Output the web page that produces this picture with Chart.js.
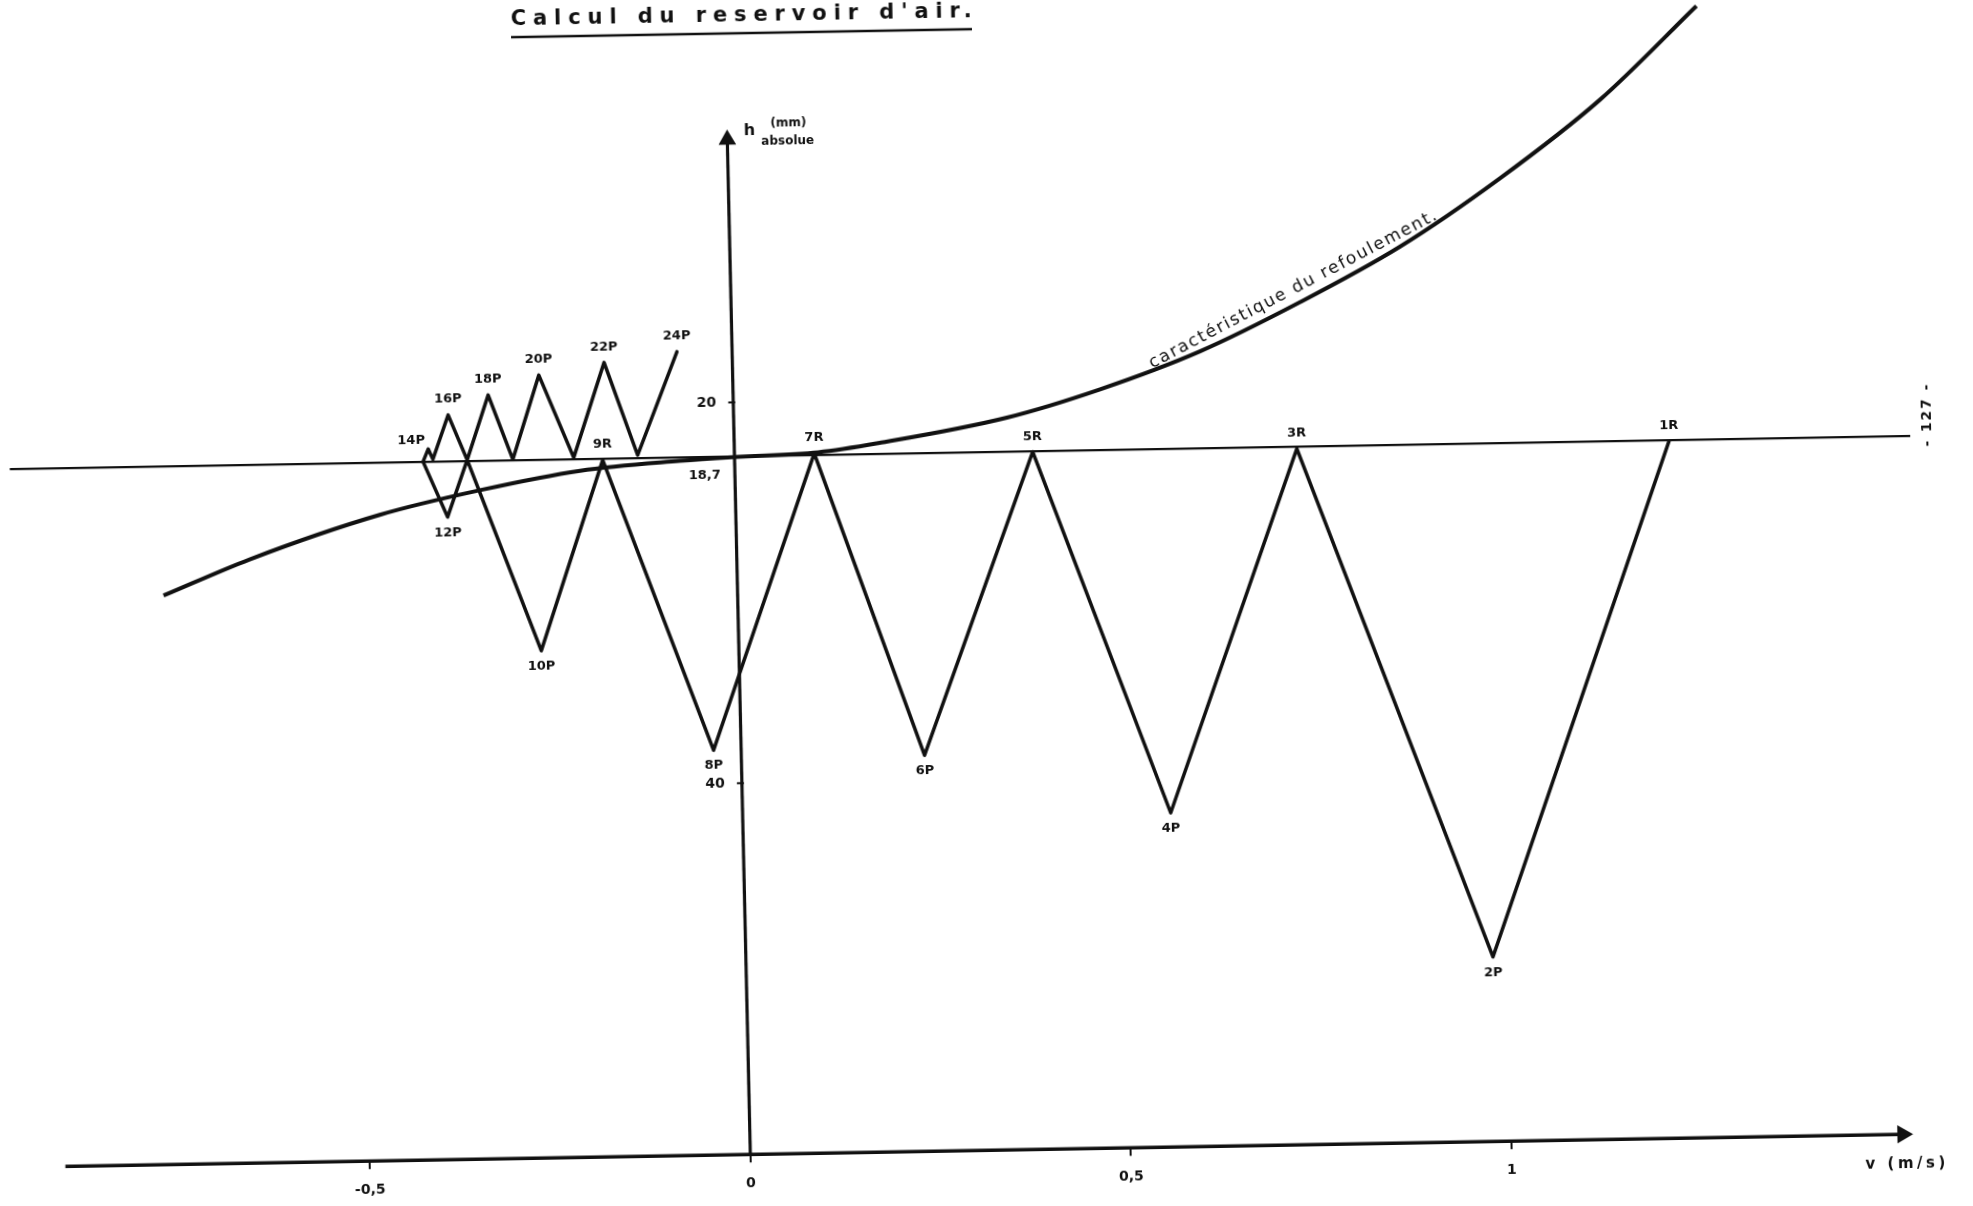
<!DOCTYPE html>
<html lang="fr">
<head>
  <meta charset="UTF-8">
  <title>Calcul du reservoir d'air</title>
  <script src="https://cdn.jsdelivr.net/npm/chart.js"></script>
  <style>
    html, body { margin: 0; padding: 0; background: #fff; overflow: hidden; }
    /* the scanned sheet sits about one degree off square */
    .sheet { position: absolute; left: -40px; top: -40px; width: 2053px; height: 1286px; transform: rotate(-1deg); }
    canvas { display: block; }
  </style>
</head>
<body>
  <div class="sheet"><canvas id="chart" width="2053" height="1286"></canvas></div>

  <script>
    // axis ticks
    const xTicks = [-0.5, 0, 0.5, 1];
    const xTickLabels = ["-0,5", "0", "0,5", "1"];
    const yTicks = [20, 40];
    const yTickLabels = ["20", "40"];

    // Bergeron construction, from 1R down to 24P (v in m/s, h)
    const pointLabels = ["1R", "2P", "3R", "4P", "5R", "6P", "7R", "8P", "9R", "10P", "", "12P",
                         "", "14P", "", "16P", "", "18P", "", "20P", "", "22P", "", "24P"];
    const pointV = [1.223, 0.980, 0.734, 0.560, 0.387, 0.238, 0.100, -0.039, -0.178, -0.263, -0.356, -0.383,
                    -0.414, -0.407, -0.401, -0.380, -0.356, -0.327, -0.296, -0.260, -0.216, -0.174, -0.132, -0.078];
    const pointH = [22.89, 49.81, 22.95, 41.95, 22.87, 38.70, 22.75, 38.24, 22.91, 32.86, 22.78, 25.76,
                    22.83, 22.17, 22.71, 20.40, 22.78, 19.39, 22.79, 18.39, 22.75, 17.79, 22.68, 17.29];

    // caractéristique du refoulement
    const curveLabel = "caractéristique du refoulement.";
    const curveV = [-0.758, -0.644, -0.472, -0.340, -0.208, -0.077, -0.007, 0.105, 0.188,
                    0.354, 0.477, 0.609, 0.742, 0.874, 1.007, 1.140, 1.269];
    const curveH = [29.62, 27.80, 25.58, 24.38, 23.45, 23.02, 22.87, 22.70, 22.25,
                    21.05, 19.65, 17.75, 15.25, 12.44, 8.94, 4.91, 0.07];

    // static level line
    const levelLabel = "18,7";
    const levelV = [-0.957, 1.540];
    const levelH = [22.84, 22.84];

    // hand drawn axes
    const xAxisV = [-0.900, 1.514];
    const xAxisH = [59.5, 59.5];
    const yAxisV = [0, -0.007];
    const yAxisH = [59.5, 6.2];

    const INK = "#111";
    const FONT = "DejaVu Sans";
    const pts = (xs, ys) => xs.map((x, i) => ({ x: x, y: ys[i] }));

    function fitSpacing(ctx, text, width) {
      ctx.letterSpacing = "0px";
      const w = ctx.measureText(text).width;
      ctx.letterSpacing = ((width - w) / (text.length - 1)).toFixed(2) + "px";
    }

    const sheetText = {
      id: "sheetText",
      afterDraw(chart) {
        const ctx = chart.ctx;
        const ca = chart.chartArea;
        const xs = chart.scales.x, ys = chart.scales.y;
        const ya = chart.getDatasetMeta(1).data;
        // x pixel of the (slightly leaning) h axis at a given height
        const axisX = y => ya[0].x + (ya[1].x - ya[0].x) * (y - ya[0].y) / (ya[1].y - ya[0].y);
        const x0 = xs.getPixelForValue(0);
        const yLevel = ys.getPixelForValue(levelH[0]);
        const yTop = ys.getPixelForValue(yAxisH[1]);
        ctx.save();
        ctx.fillStyle = INK;
        ctx.strokeStyle = INK;

        // title, underlined
        ctx.font = "bold 21px " + FONT;
        fitSpacing(ctx, "Calcul du reservoir d'air.", 461);
        ctx.textAlign = "left";
        ctx.textBaseline = "alphabetic";
        ctx.fillText("Calcul du reservoir d'air.", ca.left + 511, ca.top + 17);
        ctx.lineWidth = 2.5;
        ctx.beginPath();
        ctx.moveTo(ca.left + 511, ca.top + 29);
        ctx.lineTo(ca.left + 972, ca.top + 29);
        ctx.stroke();

        // h axis ticks and labels
        ctx.letterSpacing = "0px";
        ctx.lineWidth = 2;
        ctx.font = "bold 14px " + FONT;
        ctx.textAlign = "right";
        ctx.textBaseline = "middle";
        yTicks.forEach((v, i) => {
          const y = ys.getPixelForValue(v);
          const ax = axisX(y);
          ctx.beginPath();
          ctx.moveTo(ax - 5, y);
          ctx.lineTo(ax + 2, y);
          ctx.stroke();
          ctx.fillText(yTickLabels[i], ax - 17, y);
        });

        // level value
        ctx.font = "bold 13px " + FONT;
        ctx.fillText(levelLabel, axisX(yLevel) - 14, yLevel + 19);

        // axis names
        ctx.textAlign = "center";
        ctx.font = "bold 16px " + FONT;
        ctx.fillText("h", x0 + 17, yTop - 8);
        ctx.font = "bold 12px " + FONT;
        ctx.fillText("(mm)", x0 + 56, yTop - 15);
        ctx.fillText("absolue", x0 + 55, yTop + 3);

        ctx.font = "bold 15px " + FONT;
        fitSpacing(ctx, "v (m/s)", 80);
        ctx.fillText("v (m/s)", xs.getPixelForValue(xAxisV[1]) + 4, ca.bottom + 30);

        // point names
        ctx.letterSpacing = "0px";
        const zig = chart.getDatasetMeta(4).data;
        ctx.font = "bold 13px " + FONT;
        zig.forEach((pt, i) => {
          const t = pointLabels[i];
          if (!t) return;
          const below = pointH[i] > levelH[0] + 1;
          ctx.textBaseline = below ? "top" : "bottom";
          if (t === "14P") {
            ctx.textAlign = "right";
            ctx.fillText(t, pt.x - 3, pt.y - 2);
          } else {
            ctx.textAlign = "center";
            ctx.fillText(t, pt.x, below ? pt.y + 9 : pt.y - 9);
          }
        });

        // label along the curve
        const cm = chart.getDatasetMeta(3).data;
        const a = cm[11], b = cm[13], c = cm[12];
        ctx.save();
        ctx.translate(c.x, c.y);
        ctx.rotate(Math.atan2(b.y - a.y, b.x - a.x));
        ctx.font = "17px " + FONT;
        fitSpacing(ctx, curveLabel, 322);
        ctx.textAlign = "center";
        ctx.textBaseline = "alphabetic";
        ctx.fillText(curveLabel, 0, -10);
        ctx.restore();

        // page number in the margin
        ctx.save();
        ctx.translate(ca.right + 17, yLevel - 21);
        ctx.rotate(-Math.PI / 2);
        ctx.font = "bold 14px " + FONT;
        fitSpacing(ctx, "- 127 -", 62);
        ctx.textAlign = "center";
        ctx.textBaseline = "middle";
        ctx.fillText("- 127 -", 0, 0);
        ctx.restore();

        ctx.restore();
      }
    };

    new Chart(document.getElementById("chart").getContext("2d"), {
      type: "scatter",
      data: {
        datasets: [
          {
            data: pts(xAxisV, xAxisH), showLine: true, clip: false,
            borderColor: INK, borderWidth: 3.5,
            pointRadius: [0, 7], pointStyle: "triangle", pointRotation: 90,
            pointBackgroundColor: INK, pointBorderColor: INK
          },
          {
            data: pts(yAxisV, yAxisH), showLine: true, clip: false,
            borderColor: INK, borderWidth: 3.2,
            pointRadius: [0, 7], pointStyle: "triangle", pointRotation: 0,
            pointBackgroundColor: INK, pointBorderColor: INK
          },
          {
            data: pts(levelV, levelH), showLine: true, clip: false,
            borderColor: INK, borderWidth: 2.2, pointRadius: 0
          },
          {
            data: pts(curveV, curveH), showLine: true, clip: false,
            borderColor: INK, borderWidth: 4, pointRadius: 0,
            cubicInterpolationMode: "monotone"
          },
          {
            data: pts(pointV, pointH), showLine: true, clip: false,
            borderColor: INK, borderWidth: 3.5, pointRadius: 0,
            borderJoinStyle: "round", borderCapStyle: "round"
          }
        ]
      },
      options: {
        responsive: false,
        animation: false,
        events: [],
        layout: { autoPadding: false, padding: { left: 50, right: 100, top: 40, bottom: 45 } },
        plugins: { legend: { display: false }, tooltip: { enabled: false } },
        scales: {
          x: {
            type: "linear", min: -0.96, max: 1.54,
            border: { display: false },
            grid: { drawOnChartArea: false, drawTicks: true, tickLength: 8, color: INK, lineWidth: 2 },
            ticks: {
              padding: 13, color: INK, font: { family: FONT, size: 14, weight: "bold" },
              autoSkip: false, maxRotation: 0,
              callback: v => xTickLabels[xTicks.indexOf(v)] ?? ""
            },
            afterBuildTicks: s => { s.ticks = xTicks.map(v => ({ value: v })); }
          },
          y: {
            type: "linear", display: false, reverse: true, min: -0.9, max: 59.5,
            afterBuildTicks: s => { s.ticks = yTicks.map(v => ({ value: v })); }
          }
        }
      },
      plugins: [sheetText]
    });
  </script>
</body>
</html>
